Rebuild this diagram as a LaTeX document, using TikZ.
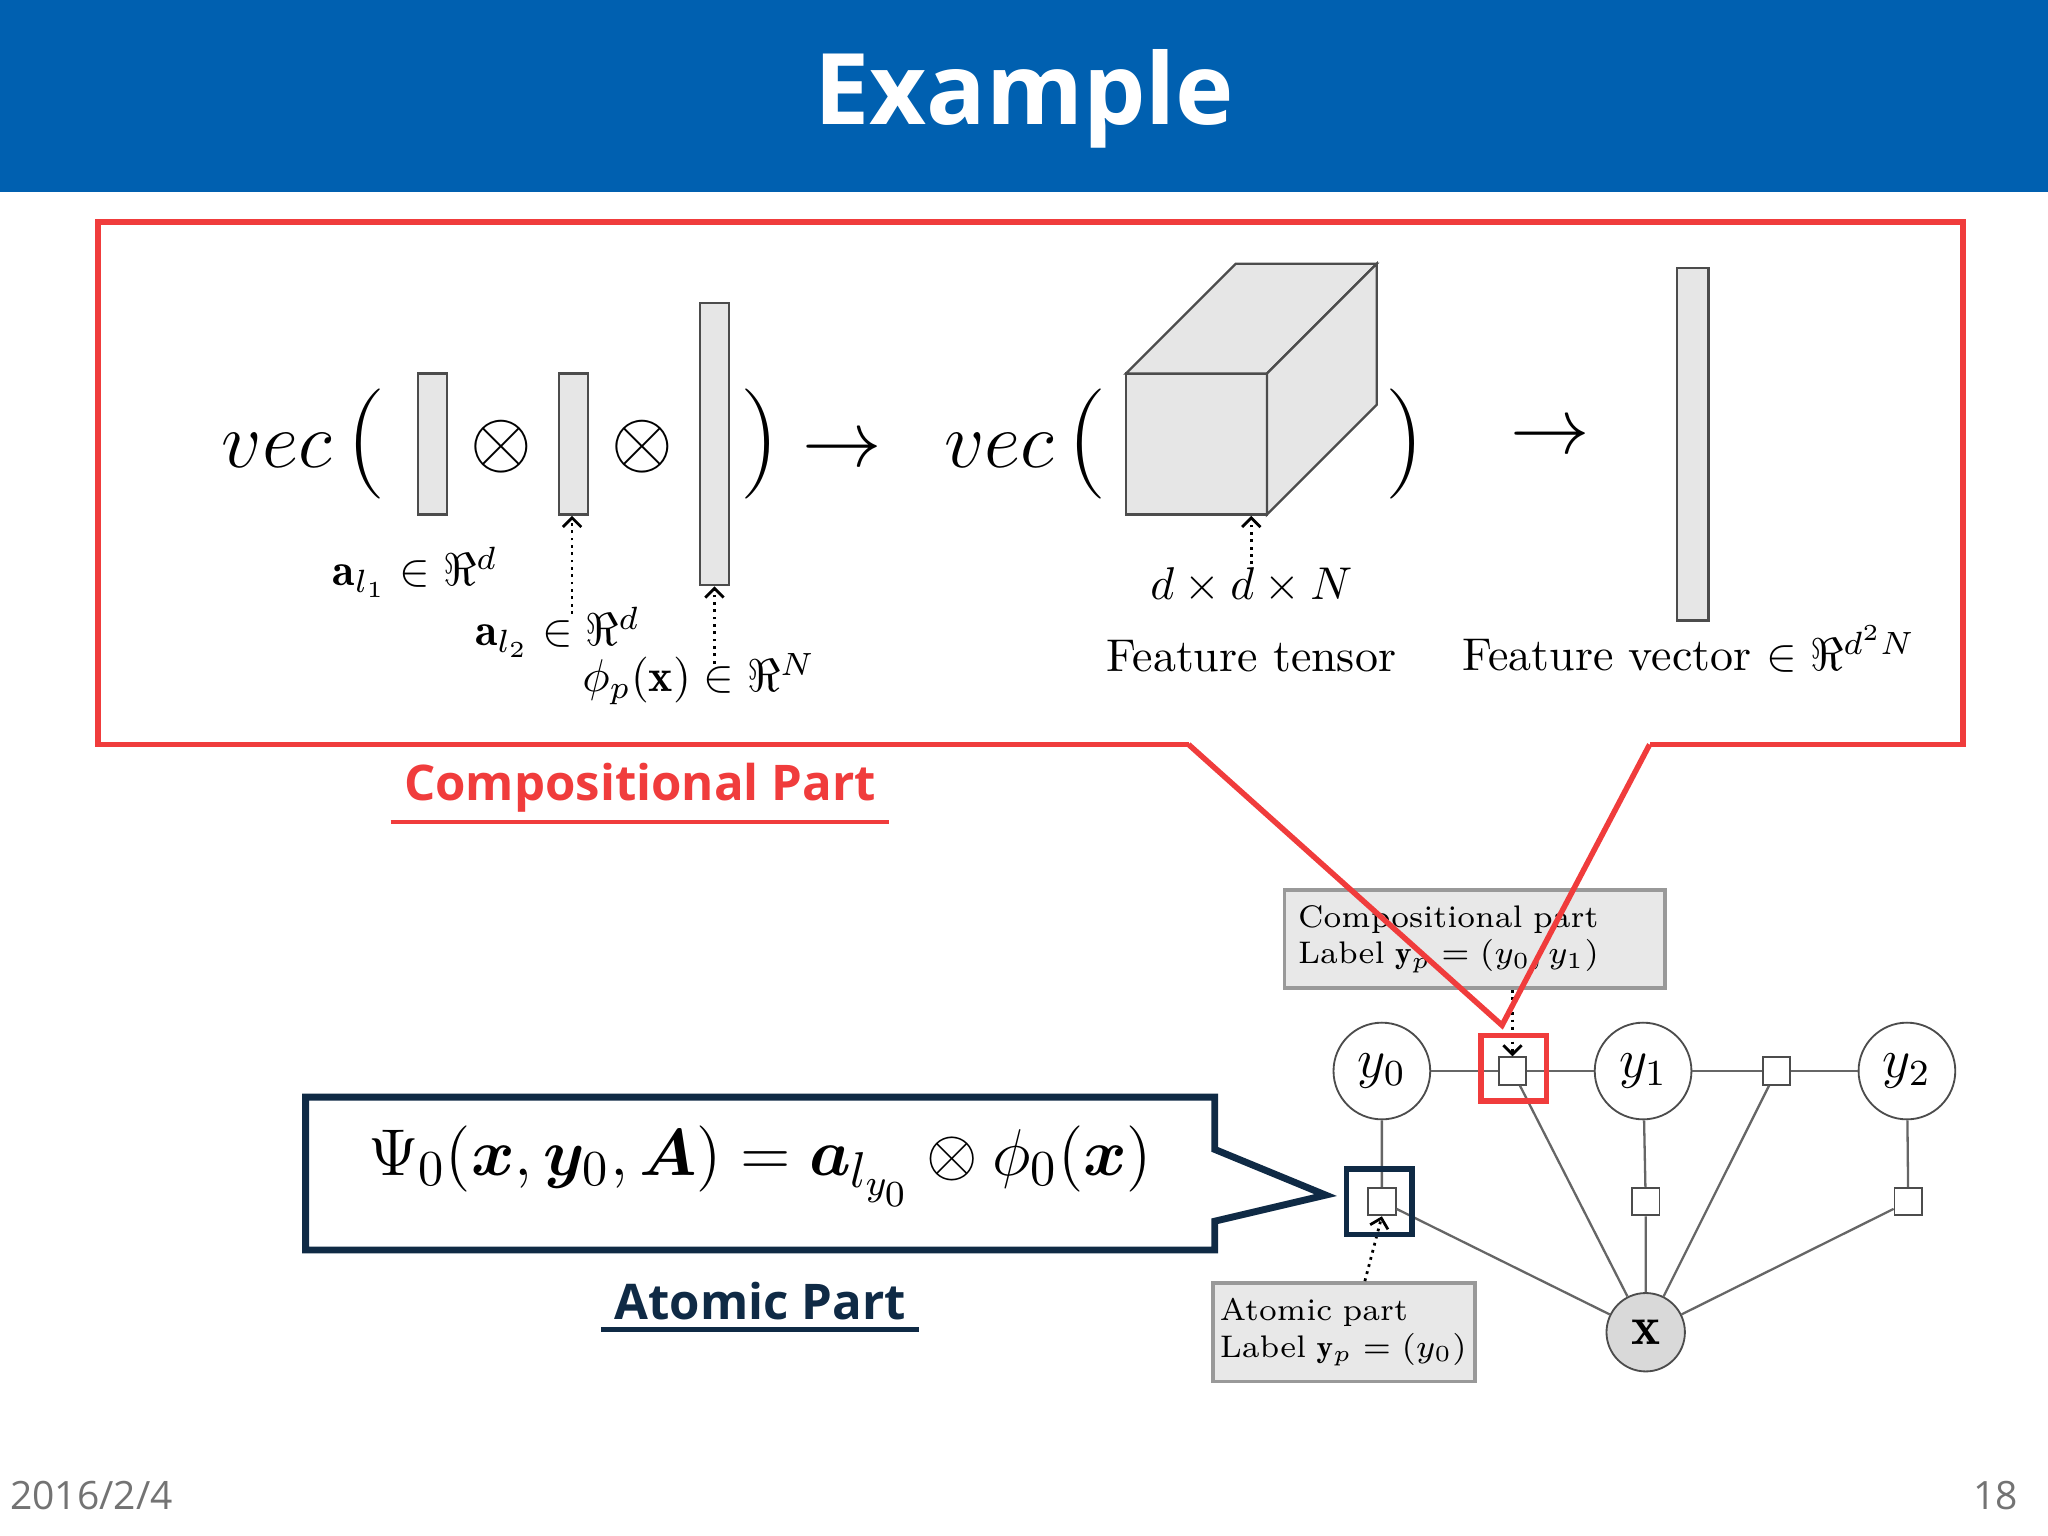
\documentclass[tikz,border=0pt]{standalone}
\usepackage{amssymb}
\usepackage{amsmath}
\usepackage{bm}
\usepackage{fontspec}
\newfontfamily\slidefont{Open Sans}
\usetikzlibrary{positioning,arrows.meta}
\definecolor{slideblue}{HTML}{0060B0}
\definecolor{calred}{HTML}{F03C3C}
\definecolor{calnavy}{HTML}{0F2A45}
\definecolor{barfill}{HTML}{E6E6E6}
\tikzset{
  bar/.style={draw=black!70,fill=barfill,line width=0.5pt},
  dotarrow/.style={densely dotted,line width=0.6pt,-{Straight Barb[length=2pt]}},
  big/.style={font=\fontsize{16}{18}\selectfont},
  paren/.style={font=\fontsize{16}{18}\selectfont,scale=1.5},
  lab/.style={font=\fontsize{10}{12}\selectfont},
  var/.style={draw=black!70,circle,minimum size=0.74cm,inner sep=0pt,font=\large},
  fac/.style={draw=black!70,fill=white,minimum size=0.21cm,inner sep=0pt},
  edge/.style={draw=black!60,line width=0.5pt},
  note/.style={draw=black!40,fill=black!9,line width=0.8pt,align=left,font=\fontsize{6.8}{8}\selectfont,inner xsep=3pt,text width=2.7cm,minimum height=0.75cm}
}
\begin{document}
\begin{tikzpicture}[x=0.01cm,y=-0.01cm]
\useasboundingbox (0,0) rectangle (1568,1176);
% header
\fill[slideblue] (0,0) rectangle (1568,147);
\node[text=white,font={\slidefont\bfseries\fontsize{21.5}{24}\selectfont}] (title) at (784,76) {Example};
% compositional part
\draw[calred,line width=1.2pt] (910,570) -- (75,570) -- (75,170) -- (1503,170) -- (1503,570) -- (1263,570);
\node[big] (vecA) at (212,345) {$vec$};
\node[paren] (parA) at (280,340) {(};
\draw[bar] (320,286) rectangle (342,394);
\node[big] (otA) at (384,342) {$\otimes$};
\draw[bar] (428,286) rectangle (450,394);
\node[big] (otB) at (492,342) {$\otimes$};
\draw[bar] (536,232) rectangle (558,448);
\node[paren] (parB) at (582,340) {)};
\node[big] (arrA) at (645,346) {$\rightarrow$};
\node[big] (vecB) at (765,345) {$vec$};
\node[paren] (parC) at (832,340) {(};
\draw[bar] (862,286) rectangle (970,394);
\draw[bar] (862,286) -- (946,202) -- (1054,202) -- (970,286) -- cycle;
\draw[bar] (970,286) -- (1054,202) -- (1054,310) -- (970,394) -- cycle;
\node[paren] (parD) at (1076,340) {)};
\node[big] (arrB) at (1187,336) {$\rightarrow$};
\draw[bar] (1284,205) rectangle (1308,475);
\node[lab] (labA) at (318,438) {$\mathbf{a}_{l_1}\in\Re^d$};
\node[lab] (labB) at (427,484) {$\mathbf{a}_{l_2}\in\Re^d$};
\node[lab] (labC) at (535,520) {$\phi_p(\mathbf{x})\in\Re^N$};
\node[lab] (labD) at (958,448) {$d\times d\times N$};
\node[lab] (labE) at (958,502) {Feature tensor};
\node[lab] (labF) at (1293,497) {Feature vector $\in\Re^{d^2N}$};
\draw[dotarrow] (438,470) -- (438,395);
\draw[dotarrow] (547,508) -- (547,449);
\draw[dotarrow] (958,432) -- (958,395);
\node[text=calred,font={\slidefont\bfseries\fontsize{10.7}{12}\selectfont}] (compT) at (490,603) {Compositional Part};
\draw[calred,line width=1pt] ([shift={(2,-5)}]compT.south west) -- ([shift={(-2,-5)}]compT.south east);
% factor graph
\node[note,text width=2.7cm] (compN) at (1129,719) {Compositional part\\ Label $\mathbf{y}_p=(y_0,y_1)$};
\node[note,text width=1.9cm,inner xsep=1.5pt] (atomN) at (1029,1020) {Atomic part\\ Label~$\mathbf{y}_p=(y_0)$};
\node[var] (y0) at (1058,820) {$y_0$};
\node[var] (y1) at (1258,820) {$y_1$};
\node[var] (y2) at (1460,820) {$y_2$};
\node[var,fill=black!15,minimum size=0.6cm] (x) at (1260,1020) {$\mathbf{x}$};
\node[fac] (f01) at (1158,820) {};
\node[fac] (f12) at (1360,820) {};
\node[fac] (a0) at (1058,920) {};
\node[fac] (a1) at (1260,920) {};
\node[fac] (a2) at (1461,920) {};
\draw[edge] (y0) -- (f01) -- (y1) -- (f12) -- (y2);
\draw[edge] (y0) -- (a0) -- (x);
\draw[edge] (y1) -- (a1) -- (x);
\draw[edge] (y2) -- (a2) -- (x);
\draw[edge] (f01) -- (x);
\draw[edge] (f12) -- (x);
\draw[dotarrow] (compN.south -| f01) -- (f01.north);
\draw[dotarrow] (atomN.north -| 1045,0) -- (a0.south);
\node[draw=calred,line width=1.2pt,minimum size=0.5cm] (redSq) at (1159,818) {};
\node[draw=calnavy,line width=1.2pt,minimum size=0.5cm] (navySq) at (1056,920) {};
\draw[calred,line width=1.2pt] (910,570) -- (1150,785) -- (1263,570);
% atomic part
\draw[calnavy,line width=1.5pt] (930,880) -- (930,840) -- (234,840) -- (234,957) -- (930,957) -- (930,935) -- (1015,915) -- cycle;
\node[font=\fontsize{15.2}{18}\selectfont] (psi) at (582,893) {$\Psi_0(\bm{x},\bm{y}_0,\bm{A})=\bm{a}_{l_{y_0}}\otimes\phi_0(\bm{x})$};
\node[text=calnavy,font={\slidefont\bfseries\fontsize{10.7}{12}\selectfont}] (atomT) at (582,996) {Atomic Part};
\draw[calnavy,line width=1pt] ([shift={(2,-5)}]atomT.south west) -- ([shift={(-2,-5)}]atomT.south east);
% footer
\node[text=black!55,font={\slidefont\fontsize{8.5}{10}\selectfont}] (date) at (70,1145) {2016/2/4};
\node[text=black!55,font={\slidefont\fontsize{8.5}{10}\selectfont}] (page) at (1528,1145) {18};
\end{tikzpicture}
\end{document}
